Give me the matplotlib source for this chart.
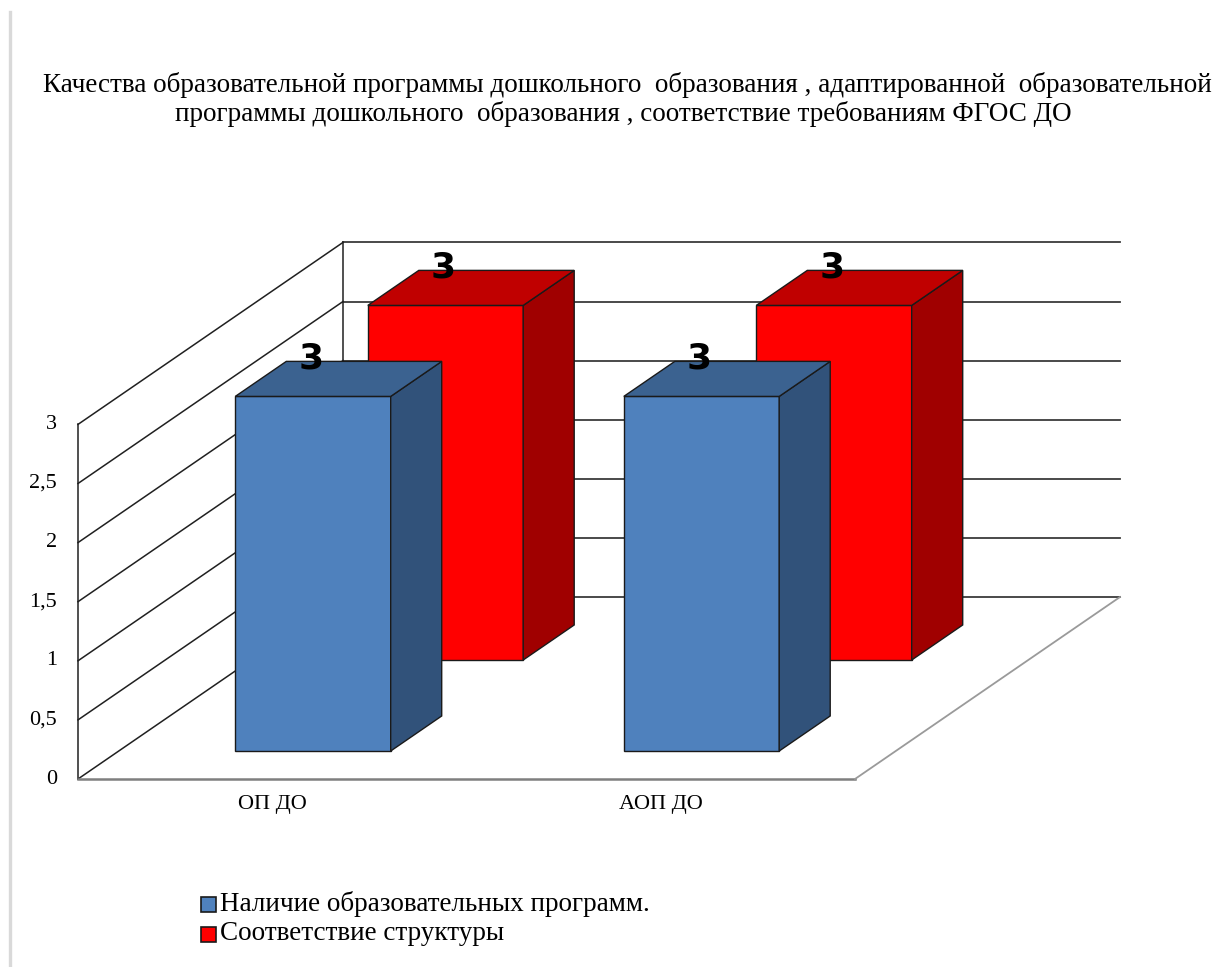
import matplotlib.pyplot as plt
from matplotlib.patches import Polygon, Rectangle

# data
categories = ['ОП ДО', 'АОП ДО']
series_names = ['Наличие образовательных программ.', 'Соответствие структуры']
values_programs = [3, 3]
values_structure = [3, 3]
y_ticks = [0, 0.5, 1, 1.5, 2, 2.5, 3]
y_tick_labels = ['0', '0,5', '1', '1,5', '2', '2,5', '3']
title_lines = ['Качества образовательной программы дошкольного  образования , адаптированной  образовательной',
               'программы дошкольного  образования , соответствие требованиям ФГОС ДО']

# colours: front, side, top
colors = [('#4F81BD', '#31527A', '#3B6290'),
          ('#FF0000', '#A00000', '#C00000')]

# oblique projection of the 3D chart box into pixel space
X0, Y0 = 78, 779          # front-bottom-left corner of the floor
CAT_W = 388.5             # width of one category on the front plane
UNIT_H = 118.2            # pixels per value unit
DX, DY = 265, 182         # offset of the full depth


def proj(u, v, d):
    return X0 + u * CAT_W + d * DX, Y0 - v * UNIT_H - d * DY


serif = 'Liberation Serif'

fig = plt.figure(figsize=(12.16, 9.67), dpi=100)
ax = fig.add_axes([0, 0, 1, 1])
ax.set_xlim(0, 1216)
ax.set_ylim(967, 0)
ax.axis('off')

# grey frame line on the left
ax.plot([10, 10], [12, 967], color='#d9d9d9', lw=2.4)

# title
ax.text(627, 85, title_lines[0], ha='center', va='center', fontsize=19.5, family=serif)
ax.text(623, 114, title_lines[1], ha='center', va='center', fontsize=19.5, family=serif)

n_cat = len(categories)
vmax = y_ticks[-1]

# back wall gridlines
for t in y_ticks:
    xa, ya = proj(0, t, 1)
    xb, yb = proj(n_cat, t, 1)
    ax.plot([xa, xb], [ya, yb], color='#3c3c3c', lw=1.3, zorder=1)
# left wall gridlines
for t in y_ticks:
    xa, ya = proj(0, t, 0)
    xb, yb = proj(0, t, 1)
    ax.plot([xa, xb], [ya, yb], color='#202020', lw=1.1, zorder=1)
# wall verticals
for d in (0, 1):
    xa, ya = proj(0, 0, d)
    xb, yb = proj(0, vmax, d)
    ax.plot([xa, xb], [ya, yb], color='#202020', lw=1.1, zorder=1)
# floor edges
xa, ya = proj(0, 0, 0)
xb, yb = proj(n_cat, 0, 0)
xc, yc = proj(n_cat, 0, 1)
ax.plot([xa, xb], [ya, yb], color='#7f7f7f', lw=1.8, zorder=1)
ax.plot([xb, xc], [yb, yc], color='#9a9a9a', lw=1.3, zorder=1)

# tick labels
for t, lab in zip(y_ticks, y_tick_labels):
    x, y = proj(0, t, 0)
    ax.text(x - 21, y, lab, ha='right', va='center', fontsize=16, family=serif)

# category labels
for i, c in enumerate(categories):
    x, y = proj(i + 0.5, 0, 0)
    ax.text(x, y + 25, c, ha='center', va='center', fontsize=16, family=serif)

# bars, back row first
series = [values_programs, values_structure]
n_ser = len(series)
bar_w = 0.4
slot = 1 / n_ser
bar_d = slot * 0.385
for s in reversed(range(n_ser)):
    front, side, top = colors[s]
    d0 = (s + 0.5) * slot - bar_d / 2
    d1 = d0 + bar_d
    for i, v in enumerate(series[s]):
        u0 = i + 0.5 - bar_w / 2
        u1 = u0 + bar_w
        faces = [
            ([proj(u0, 0, d0), proj(u1, 0, d0), proj(u1, v, d0), proj(u0, v, d0)], front),
            ([proj(u1, 0, d0), proj(u1, 0, d1), proj(u1, v, d1), proj(u1, v, d0)], side),
            ([proj(u0, v, d0), proj(u1, v, d0), proj(u1, v, d1), proj(u0, v, d1)], top),
        ]
        for pts, col in faces:
            ax.add_patch(Polygon(pts, closed=True, facecolor=col, edgecolor='#1a1a1a',
                                 lw=1.0, zorder=3 + (n_ser - s)))
        lx, _ = proj(i + 0.5, v, d0)
        _, ly = proj(i + 0.5, v, d1)
        ax.text(lx - 2, ly - 3, str(v), ha='center', va='center', fontsize=26,
                fontweight='bold', family='DejaVu Sans', zorder=10)

# legend
for k, name in enumerate(series_names):
    y = 904 + k * 30
    ax.add_patch(Rectangle((201, y - 7.5), 15, 15, facecolor=colors[k][0],
                           edgecolor='#1a1a1a', lw=1.2))
    ax.text(220, y, name, ha='left', va='center', fontsize=19.5, family=serif)

fig.savefig('out.png', dpi=100)
